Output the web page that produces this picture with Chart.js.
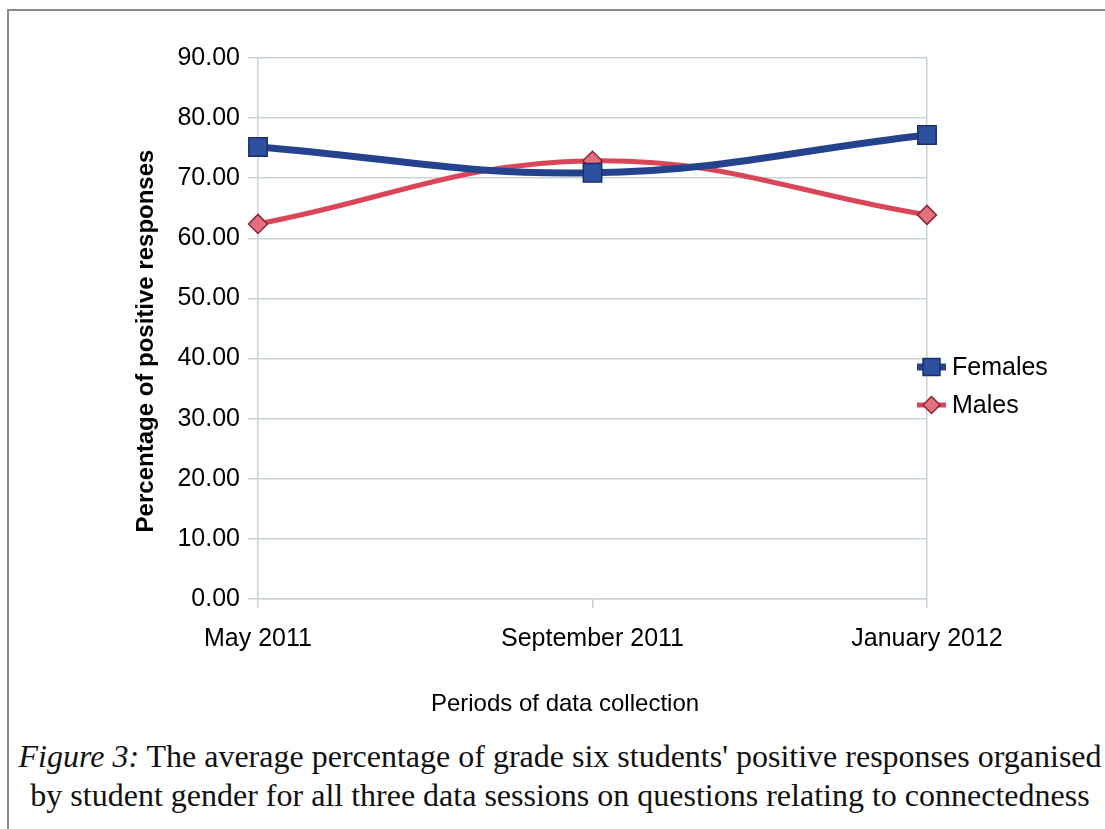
<!DOCTYPE html>
<html>
<head>
<meta charset="utf-8">
<script src="https://cdn.jsdelivr.net/npm/chart.js@4/dist/chart.umd.min.js"></script>
<style>
  html, body { margin: 0; padding: 0; background: #fff; }
  body { width: 1105px; height: 829px; position: relative; overflow: hidden; }
  #frame { position: absolute; left: 7px; top: 9px; width: 1120px; height: 840px;
           border-left: 2px solid #8a8a8a; border-top: 2px solid #8a8a8a; }
  #wrap { position: absolute; left: 0; top: 0; width: 1105px; height: 720px; }
  #caption { position: absolute; left: 8px; top: 737px; width: 1104px; text-align: center;
             font-family: "Liberation Serif", "Times New Roman", serif; font-size: 32px;
             line-height: 39px; color: #111; white-space: nowrap; }
</style>
</head>
<body>
<div id="frame"></div>
<div id="wrap"><canvas id="c" width="1105" height="720"></canvas></div>
<div id="caption"><i>Figure 3:</i> The average percentage of grade six students' positive responses organised<br>by student gender for all three data sessions on questions relating to connectedness</div>
<script>
// Collection periods and average percentage of positive responses
const periods = ['May 2011', 'September 2011', 'January 2012'];
const females = [75.2, 70.9, 77.2];
const males = [62.4, 72.9, 63.9];
const seriesNames = ['Females', 'Males'];
const yTitle = 'Percentage of positive responses';
const xTitle = 'Periods of data collection';

const FEM_LINE = '#25428f', FEM_FILL = '#2e50a0', FEM_EDGE = '#1b2f68';
const MAL_LINE = '#d9465a', MAL_FILL = '#e2707e', MAL_EDGE = '#8c2535';
const GRID = '#c9d3d3';
const SANS = '"Liberation Sans", Arial, Helvetica, sans-serif';

// Axis titles and the legend are painted by hand so they sit where they belong
const decorations = {
  id: 'decorations',
  afterDraw(chart) {
    const ctx = chart.ctx;
    ctx.save();
    ctx.fillStyle = '#000';
    // y-axis title
    ctx.font = 'bold 24px ' + SANS;
    ctx.textAlign = 'center';
    ctx.textBaseline = 'middle';
    ctx.translate(146, 341);
    ctx.rotate(-Math.PI / 2);
    ctx.fillText(yTitle, 0, 0);
    ctx.setTransform(1, 0, 0, 1, 0, 0);
    // x-axis title
    ctx.font = '24px ' + SANS;
    ctx.fillText(xTitle, 565, 704);
    // legend
    const items = [
      { label: seriesNames[0], y: 367, line: FEM_LINE, lw: 7, fill: FEM_FILL, edge: FEM_EDGE, style: 'rect', r: 12 },
      { label: seriesNames[1], y: 405, line: MAL_LINE, lw: 5, fill: MAL_FILL, edge: MAL_EDGE, style: 'rectRot', r: 8.5 }
    ];
    items.forEach(it => {
      ctx.strokeStyle = it.line;
      ctx.lineWidth = it.lw;
      ctx.beginPath();
      ctx.moveTo(917, it.y);
      ctx.lineTo(946, it.y);
      ctx.stroke();
      ctx.fillStyle = it.fill;
      ctx.strokeStyle = it.edge;
      ctx.lineWidth = 1.5;
      Chart.helpers.drawPoint(ctx, { pointStyle: it.style, radius: it.r, borderWidth: 1.5 }, 931.5, it.y);
      ctx.fillStyle = '#000';
      ctx.font = '25px ' + SANS;
      ctx.textAlign = 'left';
      ctx.textBaseline = 'middle';
      ctx.fillText(it.label, 952, it.y + 1);
    });
    ctx.restore();
  }
};

new Chart(document.getElementById('c'), {
  type: 'line',
  data: {
    labels: periods,
    datasets: [
      {
        label: seriesNames[0], data: females,
        borderColor: FEM_LINE, borderWidth: 7,
        pointStyle: 'rect', pointRadius: 13, pointHoverRadius: 13,
        pointBackgroundColor: FEM_FILL, pointBorderColor: FEM_EDGE, pointBorderWidth: 1.5,
        tension: 0.4, cubicInterpolationMode: 'default'
      },
      {
        label: seriesNames[1], data: males,
        borderColor: MAL_LINE, borderWidth: 5,
        pointStyle: 'rectRot', pointRadius: 9.5, pointHoverRadius: 9.5,
        pointBackgroundColor: MAL_FILL, pointBorderColor: MAL_EDGE, pointBorderWidth: 1.5,
        tension: 0.4, cubicInterpolationMode: 'default'
      }
    ]
  },
  options: {
    responsive: false,
    animation: false,
    events: [],
    layout: { padding: { top: 58, right: 178, bottom: 0, left: 0 } },
    plugins: { legend: { display: false }, tooltip: { enabled: false } },
    scales: {
      x: {
        offset: false,
        afterFit(scale) { scale.height = 121; },
        // only the right-hand edge of the plot gets a vertical rule
        grid: {
          color: c => (c.index === periods.length - 1 ? GRID : 'rgba(0,0,0,0)'),
          tickColor: GRID, lineWidth: 1.5, tickLength: 9
        },
        border: { color: GRID, width: 1.5 },
        ticks: { color: '#000', font: { family: SANS, size: 25 }, padding: 16, maxRotation: 0, autoSkip: false }
      },
      y: {
        min: 0, max: 90,
        afterFit(scale) { scale.width = 258; },
        grid: { color: GRID, lineWidth: 1.5, tickLength: 10 },
        border: { color: GRID, width: 1.5 },
        ticks: { stepSize: 10, color: '#000', font: { family: SANS, size: 25 }, padding: 8,
                 callback: v => Number(v).toFixed(2) }
      }
    }
  },
  plugins: [decorations]
});
</script>
</body>
</html>
